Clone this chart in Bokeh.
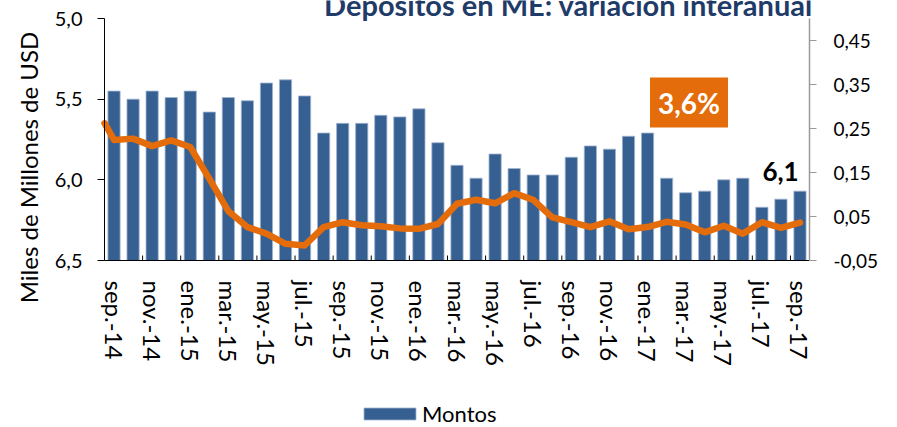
import math
from bokeh.plotting import figure
from bokeh.models import (Range1d, LinearAxis, FixedTicker, CustomJSTickFormatter, Label,
                          Legend, LegendItem, ColumnDataSource)
from bokeh.embed import file_html
from bokeh.resources import INLINE

months = ["sep.-14", "oct.-14", "nov.-14", "dic.-14", "ene.-15", "feb.-15", "mar.-15", "abr.-15",
          "may.-15", "jun.-15", "jul.-15", "ago.-15", "sep.-15", "oct.-15", "nov.-15", "dic.-15",
          "ene.-16", "feb.-16", "mar.-16", "abr.-16", "may.-16", "jun.-16", "jul.-16", "ago.-16",
          "sep.-16", "oct.-16", "nov.-16", "dic.-16", "ene.-17", "feb.-17", "mar.-17", "abr.-17",
          "may.-17", "jun.-17", "jul.-17", "ago.-17", "sep.-17"]
montos = [5.45, 5.50, 5.45, 5.49, 5.45, 5.58, 5.49, 5.51, 5.40, 5.38, 5.48, 5.71, 5.65, 5.65,
          5.60, 5.61, 5.56, 5.77, 5.91, 5.99, 5.84, 5.93, 5.97, 5.97, 5.86, 5.79, 5.81, 5.73,
          5.71, 5.99, 6.08, 6.07, 6.00, 5.99, 6.17, 6.12, 6.07]
# variación interanual; the line enters from the left edge of the chart (value read there)
variacion_inicio = 0.262
variacion = [0.224, 0.227, 0.210, 0.223, 0.208, 0.136, 0.062, 0.026, 0.011, -0.012, -0.016,
             0.026, 0.037, 0.030, 0.028, 0.023, 0.022, 0.033, 0.079, 0.088, 0.080, 0.103, 0.088,
             0.048, 0.037, 0.026, 0.039, 0.021, 0.026, 0.038, 0.032, 0.014, 0.029, 0.011, 0.037,
             0.024, 0.036]
left_ticks = [5.0, 5.5, 6.0, 6.5]
right_ticks = [-0.05, 0.05, 0.15, 0.25, 0.35, 0.45]
title_text = "Depósitos en ME: variación interanual"
y_title = "Miles de Millones de USD"
legend_label = "Montos"
label_pct = "3,6%"
label_monto = "6,1"

FONT = "Lato"
BLUE = "#376092"
ORANGE = "#E46C0A"

n = len(months)
W, H = 897, 427
# plot area (where the axes sit) inside the canvas, in pixels
AX_L, AX_R, AX_T, AX_B = 104, 809, 18, 260
LEFT_LO, LEFT_HI = 5.0, 6.5          # left axis: 5,0 at top, 6,5 at bottom
PCT_LO, PCT_HI = -0.05, 0.50         # right axis

# data ranges extended so that the whole canvas is the frame (annotations are then never clipped)
xpx = (AX_R - AX_L) / n
x0 = -0.5 - AX_L / xpx
x1 = n - 0.5 + (W - AX_R) / xpx
ypx = (AX_B - AX_T) / (LEFT_HI - LEFT_LO)
y_top = LEFT_LO - AX_T / ypx
y_bot = LEFT_HI + (H - AX_B) / ypx
ppx = (AX_B - AX_T) / (PCT_HI - PCT_LO)
p_top = PCT_HI + AX_T / ppx
p_bot = PCT_LO - (H - AX_B) / ppx

bar_src = ColumnDataSource(dict(x=list(range(n)), top=montos, bottom=[LEFT_HI] * n))
line_src = ColumnDataSource(dict(x=[-0.5] + list(range(n)), y=[variacion_inicio] + variacion))

p = figure(width=W, height=H, x_range=Range1d(x0, x1), y_range=Range1d(y_bot, y_top),
           output_backend="svg", toolbar_location=None,
           min_border_left=0, min_border_right=0, min_border_top=0, min_border_bottom=0)
p.outline_line_color = None
p.xgrid.visible = False
p.ygrid.visible = False
p.background_fill_color = "white"

p.extra_y_ranges = {"pct": Range1d(p_bot, p_top)}

bars = p.vbar(x="x", top="top", bottom="bottom", width=0.64, source=bar_src,
              fill_color=BLUE, line_color="#9FB4D0", line_width=0.8)

# small upward tick marks on the category axis, every two months
tick_x = [i - 0.5 for i in range(0, n + 1, 2)]
tick_len = 5 / ypx
p.segment(x0=tick_x, x1=tick_x, y0=[LEFT_HI] * len(tick_x), y1=[LEFT_HI - tick_len] * len(tick_x),
          line_color="black", line_width=1)

p.line(x="x", y="y", source=line_src, y_range_name="pct", line_color=ORANGE,
       line_width=6.5, line_join="round", line_cap="round")

# left axis
ya = p.yaxis[0]
ya.fixed_location = -0.5
ya.bounds = (LEFT_LO, LEFT_HI)
ya.ticker = FixedTicker(ticks=left_ticks)
ya.formatter = CustomJSTickFormatter(code="return tick.toFixed(1).replace('.', ',');")
ya.axis_line_color = "black"
ya.major_tick_line_color = "black"
ya.major_tick_out = 7
ya.major_tick_in = 0
ya.minor_tick_out = 0
ya.minor_tick_in = 0
ya.major_label_standoff = 15
ya.major_label_text_font = FONT
ya.major_label_text_font_size = "20px"
ya.major_label_text_color = "black"

# left axis title
p.add_layout(Label(x=x0 + 28 / xpx, y=y_top + 167 / ypx, text=y_title, angle=math.pi / 2,
                   text_align="center", text_baseline="middle", text_font=FONT,
                   text_font_size="24px", text_color="black"))

# bottom axis
xa = p.xaxis[0]
xa.fixed_location = LEFT_HI
xa.bounds = (-0.5, n - 0.5)
xa.ticker = FixedTicker(ticks=list(range(0, n, 2)))
xa.formatter = CustomJSTickFormatter(args=dict(labels=months),
                                     code="const i = Math.round(tick); return (i >= 0 && i < labels.length) ? labels[i] : '';")
xa.axis_line_color = "black"
xa.major_tick_out = 0
xa.major_tick_in = 0
xa.minor_tick_out = 0
xa.minor_tick_in = 0
xa.major_label_orientation = "vertical"
xa.major_label_standoff = 20
xa.major_label_text_font = FONT
xa.major_label_text_font_size = "24px"
xa.major_label_text_color = "black"

# right axis
ra = LinearAxis(y_range_name="pct", fixed_location=n - 0.5, bounds=(PCT_LO, PCT_HI))
ra.ticker = FixedTicker(ticks=right_ticks)
ra.formatter = CustomJSTickFormatter(code="return tick.toFixed(2).replace('.', ',');")
ra.axis_line_color = "#9A9A9A"
ra.axis_line_width = 1.5
ra.major_tick_line_color = "#9A9A9A"
ra.major_tick_out = 7
ra.major_tick_in = 0
ra.minor_tick_out = 0
ra.minor_tick_in = 0
ra.major_label_standoff = 17
ra.major_label_text_font = FONT
ra.major_label_text_font_size = "19px"
ra.major_label_text_color = "black"
p.add_layout(ra, "right")

# title (partially cut at the top, as in the reference)
p.add_layout(Label(x=x0 + 568 / xpx, y=y_top + 4 / ypx, text=title_text, text_align="center",
                   text_baseline="alphabetic", text_font=FONT, text_font_size="29px",
                   text_font_style="bold", text_color="#1F3B68"))

# annotations
p.add_layout(Label(x=x0 + 688.5 / xpx, y=y_top + 102 / ypx, text=label_pct, text_align="center",
                   text_baseline="middle", text_font=FONT, text_font_size="28px",
                   text_font_style="bold", text_color="white",
                   background_fill_color=ORANGE, padding=8))
p.add_layout(Label(x=x0 + 780 / xpx, y=y_top + 171 / ypx, text=label_monto, text_align="center",
                   text_baseline="middle", text_font=FONT, text_font_size="26px",
                   text_font_style="bold", text_color="black",
                   background_fill_color="white", padding=2))

legend = Legend(items=[LegendItem(label=legend_label, renderers=[bars])],
                location=(357, 0), orientation="horizontal",
                glyph_width=65, glyph_height=15, label_standoff=0,
                label_text_font=FONT, label_text_font_size="22px", label_text_color="black",
                border_line_color=None, background_fill_alpha=0, padding=0, margin=0)
p.add_layout(legend, "center")

open("out.html", "w").write(file_html(p, INLINE))
